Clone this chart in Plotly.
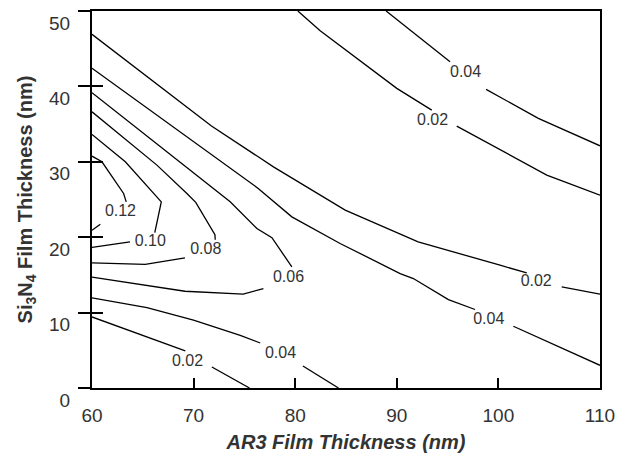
import plotly.graph_objects as go

# ---- data (x: AR3 thickness nm, y: Si3N4 thickness nm) ----
# None marks the gap where the contour label sits
c002_mid_x = [60, 71.76, 76.36, 77.86, 84.92, 92.10, 100.16, 102.79, None, 106.23, 110]
c002_mid_y = [46.9, 34.74, 30.66, 29.33, 23.59, 19.38, 16.29, 15.26, None, 13.41, 12.44]

c004_mid_x = [60, 76.36, 79.67, 84.42, 90.33, 91.63, 95.08, 97.70, None, 101.47, 104.59, 110]
c004_mid_y = [42.4, 26.47, 22.70, 19.17, 15.18, 14.52, 11.73, 10.41, None, 8.19, 6.33, 3.01]

c006_x = [60, 72.10, 73.60, 76.23, 77.71, 79.67, None, 76.87, 74.88, 69.15, 60]
c006_y = [39.16, 26.24, 24.69, 21.16, 19.94, 16.06, None, 13.19, 12.44, 12.83, 14.70]

c008_x = [60, 66.39, 69.34, 70.21, 72.10, 72.13, None, 69.15, 65.24, 60]
c008_y = [36.63, 29.56, 25.80, 24.62, 20.33, 19.67, None, 17.25, 16.39, 16.59]

c010_x = [60, 63.28, 66.82, 66.18, None, 63.74, 60]
c010_y = [33.63, 30.0, 24.69, 20.6, None, 19.38, 18.64]

c012_x = [60, 60.98, 63.11, 63.37, None, 60.82, 60]
c012_y = [30.75, 30.0, 25.80, 24.69, None, 21.73, 20.93]

c004_low_x = [60, 65.41, 69.99, 74.59, 76.56, None, 80.76, 84.26]
c004_low_y = [11.95, 10.67, 8.99, 6.99, 5.97, None, 2.92, 0]

c002_low_x = [60, 69.18, None, 71.80, 75.50]
c002_low_y = [9.42, 4.91, None, 2.79, 0]

c002_top_x = [80.26, 82.46, 90.0, 93.44, None, 95.9, 104.76, 110]
c002_top_y = [50, 47.39, 39.74, 36.86, None, 34.74, 28.23, 25.57]

c004_top_x = [88.95, 95.24, None, 98.79, 103.93, 110]
c004_top_y = [50, 43.27, None, 39.61, 35.76, 32.12]

label_text = ["0.04", "0.02", "0.12", "0.10", "0.08", "0.06", "0.02", "0.04", "0.04", "0.02"]
label_x = [96.77, 93.52, 62.80, 65.73, 71.20, 79.34, 103.72, 99.05, 78.55, 69.40]
label_y = [41.81, 35.44, 23.36, 19.38, 18.28, 14.60, 14.07, 8.99, 4.57, 3.45]

x_ticks = [60, 70, 80, 90, 100, 110]
y_ticks = [0, 10, 20, 30, 40, 50]

contours = [
    (c002_top_x, c002_top_y), (c004_top_x, c004_top_y),
    (c002_mid_x, c002_mid_y), (c004_mid_x, c004_mid_y),
    (c006_x, c006_y), (c008_x, c008_y), (c010_x, c010_y), (c012_x, c012_y),
    (c004_low_x, c004_low_y), (c002_low_x, c002_low_y),
]

fig = go.Figure()
for cx, cy in contours:
    fig.add_trace(go.Scatter(x=cx, y=cy, mode="lines", connectgaps=False,
                             line=dict(color="black", width=1.3),
                             showlegend=False, hoverinfo="skip"))

fig.add_trace(go.Scatter(x=label_x, y=label_y, mode="text", text=label_text,
                         textposition="middle center",
                         textfont=dict(family="Liberation Sans, Arial", size=16, color="#333333"),
                         showlegend=False, hoverinfo="skip"))

# invisible trace for the inner-tick overlay axis
fig.add_trace(go.Scatter(x=[None], y=[None], yaxis="y2", showlegend=False, hoverinfo="skip"))

font_main = "Liberation Sans, Arial, sans-serif"
fig.update_layout(
    width=631, height=454,
    margin=dict(l=92, r=31, t=11, b=66),
    paper_bgcolor="white", plot_bgcolor="white",
    font=dict(family=font_main, color="#333333"),
    xaxis=dict(range=[60, 110], tickvals=x_ticks, ticks="inside", ticklen=10,
               tickwidth=1.6, tickcolor="black", automargin=False,
               showline=True, linewidth=2, linecolor="black", mirror=True,
               showgrid=False, zeroline=False, ticklabelstandoff=9,
               tickfont=dict(size=19, color="#333333"),
               title=dict(text="<b><i>AR3 Film Thickness (nm)</i></b>",
                          font=dict(size=20, color="#333333"), standoff=10)),
    yaxis=dict(range=[0, 50], tickvals=y_ticks, ticks="outside", ticklen=12,
               tickwidth=1.6, tickcolor="black", automargin=False,
               showline=True, linewidth=2, linecolor="black", mirror=True,
               showgrid=False, zeroline=False,
               ticklabelshift=12, ticklabelstandoff=4,
               tickfont=dict(size=19, color="#333333"),
               title=dict(text="<b>Si<sub>3</sub>N<sub>4</sub> Film Thickness (nm)</b>",
                          font=dict(size=20, color="#333333"), standoff=11)),
    yaxis2=dict(range=[0, 50], tickvals=y_ticks, overlaying="y", side="left",
                ticks="inside", ticklen=11, tickwidth=1.6, tickcolor="black",
                automargin=False,
                showticklabels=False, showline=False, showgrid=False, zeroline=False),
)

fig.write_html("out.html", config={"displayModeBar": False},
               post_script="document.body.style.margin='0';")
